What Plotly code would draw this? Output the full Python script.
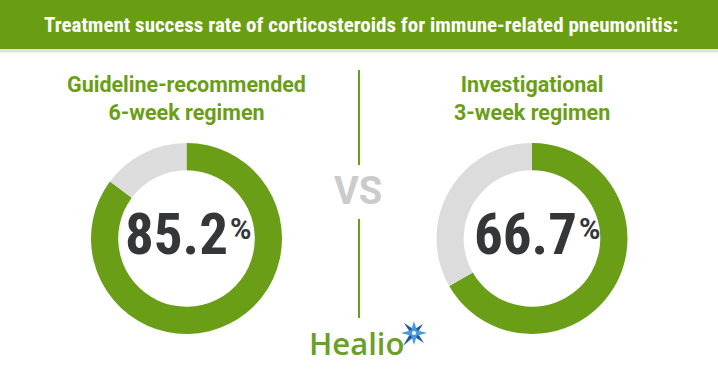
import plotly.graph_objects as go

# ---- data ----
title_text = "Treatment success rate of corticosteroids for immune-related pneumonitis:"
regimens = ["Guideline-recommended<br>6-week regimen", "Investigational<br>3-week regimen"]
success_rates = [85.2, 66.7]
slice_labels = ["Success", "Other"]
vs_text = "VS"
brand_text = "Healio"

GREEN = "#6a9e16"
GREY = "#dcdcdc"
DARK = "#343638"

W, H = 718, 377

def px(x):
    return x / W

def py(y):
    return 1 - y / H

fig = go.Figure()

domains_x = [(91, 282), (436, 628)]
dom_y = (143, 334)
for i, (rate, (x0, x1)) in enumerate(zip(success_rates, domains_x)):
    fig.add_trace(go.Pie(
        values=[rate, 100 - rate],
        labels=slice_labels,
        hole=0.715,
        sort=False,
        direction="clockwise",
        rotation=0,
        marker=dict(colors=[GREEN, GREY], line=dict(width=0)),
        textinfo="none",
        hoverinfo="label+value",
        showlegend=False,
        domain=dict(x=[px(x0), px(x1)], y=[py(dom_y[1]), py(dom_y[0])]),
    ))

shapes = []
# header bar
shapes.append(dict(type="rect", xref="paper", yref="paper", x0=0, x1=1,
                   y0=py(49), y1=1, fillcolor="#6a9e12", line=dict(width=0), layer="below"))
shapes.append(dict(type="rect", xref="paper", yref="paper", x0=0, x1=1,
                   y0=py(52.5), y1=py(49), fillcolor="#dfe3e6", line=dict(width=0), layer="below"))
# vertical divider
shapes.append(dict(type="line", xref="paper", yref="paper", x0=px(359), x1=px(359),
                   y0=py(70), y1=py(165), line=dict(color=GREEN, width=2)))
shapes.append(dict(type="line", xref="paper", yref="paper", x0=px(359), x1=px(359),
                   y0=py(219), y1=py(318), line=dict(color=GREEN, width=2)))

# Healio star logo (decoration)
def star_path(cx, cy, pts):
    s = ""
    for k, (dx, dy) in enumerate(pts):
        s += ("M" if k == 0 else "L") + f"{px(cx + dx):.5f},{py(cy + dy):.5f} "
    return s + "Z"

cx, cy = 414, 333
big = [(0, -12), (2.8, -2.8), (13, 0), (2.8, 2.8), (0, 12), (-2.8, 2.8), (-13, 0), (-2.8, -2.8)]
rot = [(9, -9), (3.5, 0), (10, 10), (0, 3.5), (-11, 13), (-3.5, 0), (-10, -10), (0, -3.5)]
shapes.append(dict(type="path", xref="paper", yref="paper",
                   path=star_path(cx, cy, rot), fillcolor="#1c5aa6", line=dict(width=0)))
shapes.append(dict(type="path", xref="paper", yref="paper",
                   path=star_path(cx, cy, big), fillcolor="#4a9ad8", line=dict(width=0)))
shapes.append(dict(type="circle", xref="paper", yref="paper",
                   x0=px(cx - 2), x1=px(cx + 2), y0=py(cy + 2), y1=py(cy - 2),
                   fillcolor="white", line=dict(width=0)))

annotations = []
annotations.append(dict(text=f"<b>{title_text}</b>", x=px(361), y=py(25), xref="paper", yref="paper",
                        showarrow=False, xanchor="center", yanchor="middle",
                        font=dict(family="Liberation Sans Narrow, Roboto Condensed, Roboto", size=21, color="white")))

sub_x = [186.5, 532]
num_right = [228, 577]
for i in range(2):
    annotations.append(dict(text=f"<b>{regimens[i]}</b>", x=px(sub_x[i]), y=py(99), xref="paper", yref="paper",
                            showarrow=False, xanchor="center", yanchor="middle",
                            font=dict(family="Roboto", size=21.5, color=GREEN)))
    annotations.append(dict(text=f"<b>{success_rates[i]:.1f}</b>", x=px(num_right[i] + 2), y=py(235),
                            xref="paper", yref="paper", showarrow=False, xanchor="right", yanchor="middle",
                            font=dict(family="Liberation Sans Narrow, Roboto Condensed, Roboto", size=57, color=DARK)))
    annotations.append(dict(text="<b>%</b>", x=px(num_right[i]), y=py(229), xref="paper", yref="paper",
                            showarrow=False, xanchor="left", yanchor="middle",
                            font=dict(family="Roboto", size=29, color=DARK)))

annotations.append(dict(text=f"<b>{vs_text}</b>", x=px(358), y=py(191), xref="paper", yref="paper",
                        showarrow=False, xanchor="center", yanchor="middle",
                        font=dict(family="Roboto", size=38, color="#cbcbcb")))
annotations.append(dict(text=brand_text, x=px(307), y=py(343), xref="paper", yref="paper",
                        showarrow=False, xanchor="left", yanchor="middle",
                        font=dict(family="Open Sans", size=31, weight=600, color="#6aa023")))

fig.update_layout(width=W, height=H, margin=dict(l=0, r=0, t=0, b=0),
                  paper_bgcolor="white", plot_bgcolor="white",
                  shapes=shapes, annotations=annotations)

fig.write_html("out.html", config={"displayModeBar": False},
               post_script="document.body.style.margin='0';")
